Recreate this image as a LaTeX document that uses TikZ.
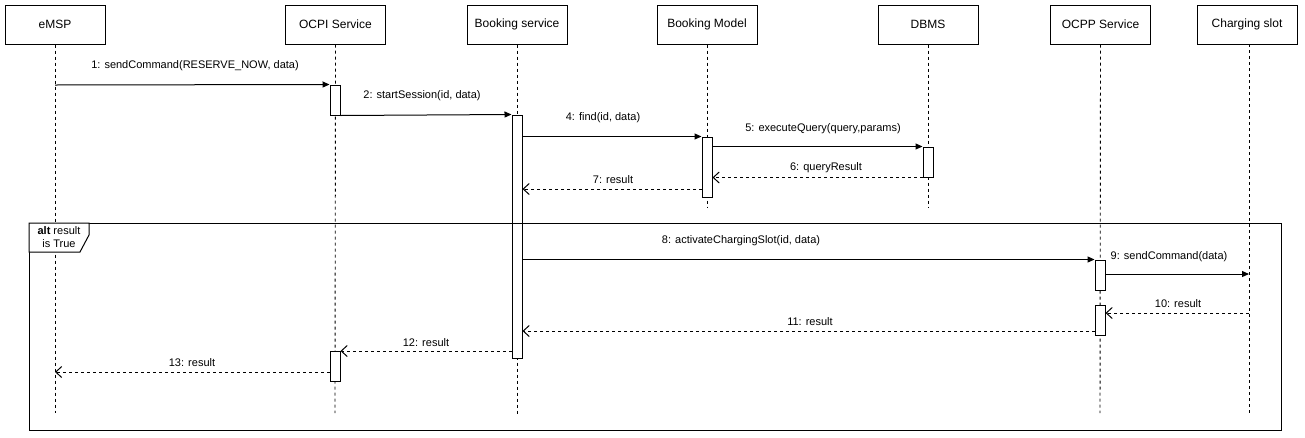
\documentclass[tikz,border=0pt]{standalone}
\usepackage{fontspec}
\setmainfont{Liberation Sans}
\usetikzlibrary{arrows.meta}
\begin{document}
\begin{tikzpicture}[x=1pt,y=-1pt,
  head/.style={draw, line width=1pt, minimum width=100pt, minimum height=39pt, inner sep=0pt, font=\fontsize{12}{14}\selectfont},
  act/.style={draw, fill=white, line width=1pt, minimum width=10pt, inner sep=0pt},
  life/.style={line width=0.9pt, dash pattern=on 3pt off 3pt},
  msg/.style={line width=1pt, -{Triangle[length=7pt,width=6pt]}},
  ret/.style={line width=1pt, dash pattern=on 3pt off 3pt, -{Straight Barb[length=6pt,width=11pt]}},
  lbl/.style={font=\fontsize{11}{13}\selectfont, inner sep=0pt}]
\useasboundingbox (0,0) rectangle (1305,437);

% headers
\node[head] (emsp) at (55,24.5) {eMSP};
\node[head] (ocpi) at (335.5,24.5) {OCPI Service};
\node[head] (book) at (517,24.5) {Booking service};
\node[head] (model) at (707,24.5) {Booking Model};
\node[head] (dbms) at (928,24.5) {DBMS};
\node[head] (ocpp) at (1100.5,24.5) {OCPP Service};
\node[head] (slot) at (1247,24.5) {Charging slot};

% lifeline ends
\coordinate (emspE) at (55,413);
\coordinate (ocpiE) at (335,413);
\coordinate (bookE) at (517,415);
\coordinate (modelE) at (707,207);
\coordinate (dbmsE) at (928,208);
\coordinate (ocppE) at (1100,413);
\coordinate (slotS) at (1249,44);
\coordinate (slotE) at (1249,413);

\draw[life] (emsp.south) -- (emspE);
\draw[life] (ocpi.south) -- (ocpiE);
\draw[life] (book.south) -- (bookE);
\draw[life] (model.south) -- (modelE);
\draw[life] (dbms.south) -- (dbmsE);
\draw[life] (ocpp.south) -- (ocppE);
\draw[life] (slotS) -- (slotE);

% activations
\node[act, minimum height=30pt] (a1) at (335,100) {};
\node[act, minimum height=243pt] (a2) at (517,236.5) {};
\node[act, minimum height=60pt] (a3) at (707,167) {};
\node[act, minimum height=30pt] (a4) at (928,162) {};
\node[act, minimum height=30pt] (a5) at (1100,275) {};
\node[act, minimum height=30pt] (a6) at (1100,320) {};
\node[act, minimum height=30pt] (a7) at (335,366.5) {};

% alt frame
\node[draw, line width=1pt, minimum width=1252pt, minimum height=207pt, inner sep=0pt, anchor=north west] (alt) at (29,223) {};
\coordinate (p0) at (29,223);
\coordinate (p1) at (89,223);
\coordinate (p2) at (89,235);
\coordinate (p3) at (80,252);
\coordinate (p4) at (29,252);
\filldraw[fill=white, line width=1pt] (p0) -- (p1) -- (p2) -- (p3) -- (p4) -- cycle;
\node[lbl, align=center] (altl) at (59,237) {\textbf{alt} result\\is True};

% message coordinates
\coordinate (m1) at (55,85);
\coordinate (m7) at (702,189);
\coordinate (m9) at (1249,274);
\coordinate (m10) at (1249,313);
\coordinate (m11) at (1095,331);
\coordinate (m13) at (55,372);

% messages
\draw[msg] (m1) -- (a1.north west);
\node[lbl] (l1) at (195,66) {1: sendCommand(RESERVE\_NOW, data)};

\draw[msg] (a1.south east) -- (a2.north west);
\node[lbl] (l2) at (422,96) {2: startSession(id, data)};

\draw[msg] (a2.east |- a3.north) -- (a3.north west);
\node[lbl] (l4) at (603,118) {4: find(id, data)};

\draw[msg] (a3.east |- a4.north) -- (a4.north west);
\node[lbl] (l5) at (823,129) {5: executeQuery(query,params)};

\draw[ret] (a4.south west) -- (a3.east |- a4.south);
\node[lbl] (l6) at (826,168) {6: queryResult};

\draw[ret] (m7) -- (a2.east |- m7);
\node[lbl] (l7) at (613,180) {7: result};

\draw[msg] (a2.east |- a5.north) -- (a5.north west);
\node[lbl] (l8) at (741,241) {8: activateChargingSlot(id, data)};

\draw[msg] (a5.east |- m9) -- (m9);
\node[lbl] (l9) at (1169,257) {9: sendCommand(data)};

\draw[ret] (m10) -- (a6.east |- m10);
\node[lbl] (l10) at (1178,304) {10: result};

\draw[ret] (m11) -- (a2.east |- m11);
\node[lbl] (l11) at (810,322) {11: result};

\draw[ret] (a2.west |- a7.north) -- (a7.north east);
\node[lbl] (l12) at (426,343) {12: result};

\draw[ret] (a7.west |- m13) -- (m13);
\node[lbl] (l13) at (192,363) {13: result};
\end{tikzpicture}
\end{document}
